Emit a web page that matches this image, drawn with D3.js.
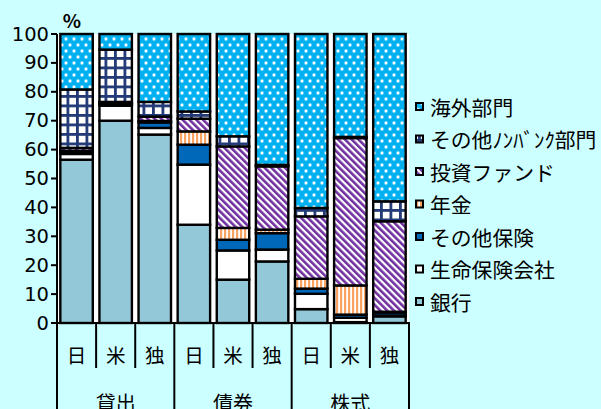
<!DOCTYPE html>
<html lang="ja">
<head>
<meta charset="utf-8">
<script src="https://cdn.jsdelivr.net/npm/d3@7"></script>
<style>
  html, body { margin: 0; padding: 0; background: #CCFFFF; }
  svg { display: block; }
  text { font-family: "Noto Sans CJK JP", "Noto Sans", sans-serif; fill: #000; }
  text.num { font-family: "DejaVu Sans", "Noto Sans CJK JP", sans-serif; }
</style>
</head>
<body>
<svg id="chart" width="601" height="409"></svg>
<script>
// Holders' shares (%) of loans, bonds and equities in Japan, US and Germany
const categories = ["日", "米", "独", "日", "米", "独", "日", "米", "独"];
const groups = ["貸出", "債券", "株式"];
const seriesNames = ["銀行", "生命保険会社", "その他保険", "年金", "投資ファンド", "その他ﾉﾝﾊﾞﾝｸ部門", "海外部門"];

const banks        = [56.5, 70.0, 65.2, 34.0, 15.0, 21.3, 4.8, 0.3, 2.3];
const lifeInsurers = [2.0, 5.2, 2.3, 20.8, 10.1, 4.1, 5.3, 1.5, 0.3];
const otherInsur   = [0.8, 0.5, 1.9, 6.9, 3.7, 5.7, 1.8, 1.1, 1.0];
const pensions     = [0.3, 0.3, 0.5, 4.6, 4.1, 1.2, 3.4, 10.1, 0.3];
const invFunds     = [1.0, 0.5, 1.5, 4.4, 28.2, 21.9, 21.6, 51.0, 31.3];
const otherNonbank = [20.2, 18.1, 5.1, 2.5, 3.5, 0.5, 2.9, 0.4, 6.9];
const overseas     = [19.2, 5.4, 23.5, 26.8, 35.4, 45.3, 60.2, 35.6, 57.9];

const yTicks = [0, 10, 20, 30, 40, 50, 60, 70, 80, 90, 100];

const seriesValues = [banks, lifeInsurers, otherInsur, pensions, invFunds, otherNonbank, overseas];

const svg = d3.select("#chart");
const W = 601, H = 409;
const plot = { left: 57, right: 409, top: 34, bottom: 323 };

svg.append("rect").attr("width", W).attr("height", H).attr("fill", "#CCFFFF");

// ---- fill patterns ----
const defs = svg.append("defs");

// 海外部門: blue with white dots
const pDots = defs.append("pattern").attr("id", "pat6")
  .attr("patternUnits", "userSpaceOnUse").attr("width", 8).attr("height", 12);
pDots.append("rect").attr("width", 8).attr("height", 12).attr("fill", "#00B0F0");
[[2, 3], [6, 9]].forEach(([cx, cy]) => {
  pDots.append("circle").attr("cx", cx).attr("cy", cy).attr("r", 1.9).attr("fill", "#80d8f8");
  pDots.append("circle").attr("cx", cx).attr("cy", cy).attr("r", 1.2).attr("fill", "#ffffff");
});

// その他ﾉﾝﾊﾞﾝｸ部門: navy grid on white
const pGrid = defs.append("pattern").attr("id", "pat5")
  .attr("patternUnits", "userSpaceOnUse").attr("width", 9.5).attr("height", 9.5);
pGrid.append("rect").attr("width", 9.5).attr("height", 9.5).attr("fill", "#ffffff");
pGrid.append("rect").attr("x", 0).attr("y", 0).attr("width", 9.5).attr("height", 2.8).attr("fill", "#233A78");
pGrid.append("rect").attr("x", 0).attr("y", 0).attr("width", 2.8).attr("height", 9.5).attr("fill", "#233A78");

// 投資ファンド: purple diagonal stripes
const pDiag = defs.append("pattern").attr("id", "pat4")
  .attr("patternUnits", "userSpaceOnUse").attr("width", 4.8).attr("height", 4.8)
  .attr("patternTransform", "rotate(-45)");
pDiag.append("rect").attr("width", 4.8).attr("height", 4.8).attr("fill", "#ffffff");
pDiag.append("rect").attr("width", 2.6).attr("height", 4.8).attr("fill", "#7030A0");

// 年金: orange vertical stripes
const pVert = defs.append("pattern").attr("id", "pat3")
  .attr("patternUnits", "userSpaceOnUse").attr("width", 4).attr("height", 4);
pVert.append("rect").attr("width", 4).attr("height", 4).attr("fill", "#ffffff");
pVert.append("rect").attr("width", 2.2).attr("height", 4).attr("fill", "#F9A462");

const fills = ["#93C8D8", "#ffffff", "#0068B8", "url(#pat3)", "url(#pat4)", "url(#pat5)", "url(#pat6)"];

// ---- scales ----
const x = d3.scaleBand()
  .domain(d3.range(categories.length))
  .range([plot.left, plot.right])
  .paddingInner(0.17)
  .paddingOuter(0.085);
const y = d3.scaleLinear().domain([0, 100]).range([plot.bottom, plot.top]);

// plot area
svg.append("rect")
  .attr("x", plot.left).attr("y", y(100))
  .attr("width", plot.right - plot.left).attr("height", y(0) - y(100))
  .attr("fill", "#ffffff");

// ---- stacked bars ----
const rows = categories.map((c, i) => {
  const r = { idx: i };
  seriesNames.forEach((s, k) => { r[s] = seriesValues[k][i]; });
  return r;
});
const stacked = d3.stack().keys(seriesNames)(rows);

svg.append("g").selectAll("g")
  .data(stacked)
  .join("g")
  .attr("fill", (d, k) => fills[k])
  .selectAll("rect")
  .data(d => d)
  .join("rect")
  .attr("x", d => x(d.data.idx))
  .attr("width", x.bandwidth())
  .attr("y", d => y(d[1]))
  .attr("height", d => y(d[0]) - y(d[1]))
  .attr("stroke", "#000")
  .attr("stroke-width", 2.4);

// ---- y axis ----
const yAxis = svg.append("g");
yAxis.append("line")
  .attr("x1", plot.left).attr("x2", plot.left)
  .attr("y1", y(100)).attr("y2", y(0))
  .attr("stroke", "#000").attr("stroke-width", 2);
yAxis.selectAll("line.tick")
  .data(yTicks).join("line").attr("class", "tick")
  .attr("x1", plot.left - 6).attr("x2", plot.left)
  .attr("y1", d => y(d)).attr("y2", d => y(d))
  .attr("stroke", "#000").attr("stroke-width", 2);
yAxis.selectAll("text")
  .data(yTicks).join("text")
  .attr("class", "num")
  .attr("x", plot.left - 8)
  .attr("y", d => y(d))
  .attr("text-anchor", "end")
  .attr("dominant-baseline", "central")
  .attr("font-size", 19.5)
  .text(d => d);

svg.append("text")
  .attr("x", 72).attr("y", 19)
  .attr("text-anchor", "middle")
  .attr("dominant-baseline", "central")
  .attr("font-size", 19)
  .attr("font-weight", "bold")
  .text("%");

// ---- category axis (two levels) ----
const step = x.step();
const xAxis = svg.append("g");
xAxis.append("line")
  .attr("x1", plot.left - 6).attr("x2", plot.right + 1)
  .attr("y1", plot.bottom).attr("y2", plot.bottom)
  .attr("stroke", "#000").attr("stroke-width", 2);
xAxis.selectAll("line.sep")
  .data(d3.range(categories.length + 1)).join("line").attr("class", "sep")
  .attr("x1", i => plot.left + i * step).attr("x2", i => plot.left + i * step)
  .attr("y1", plot.bottom)
  .attr("y2", i => (i % 3 === 0 ? H : 368))
  .attr("stroke", "#000").attr("stroke-width", 2);
xAxis.selectAll("text.cat")
  .data(categories).join("text").attr("class", "cat")
  .attr("x", (d, i) => x(i) + x.bandwidth() / 2)
  .attr("y", 354)
  .attr("text-anchor", "middle")
  .attr("dominant-baseline", "central")
  .attr("font-size", 19.5)
  .text(d => d);
xAxis.selectAll("text.grp")
  .data(groups).join("text").attr("class", "grp")
  .attr("x", (d, g) => plot.left + (g * 3 + 1.5) * step)
  .attr("y", 411)
  .attr("text-anchor", "middle")
  .attr("font-size", 20)
  .text(d => d);

// ---- legend ----
const legendOrder = d3.range(seriesNames.length).reverse();
const legend = svg.append("g");
const lg = legend.selectAll("g")
  .data(legendOrder).join("g")
  .attr("transform", (k, j) => `translate(0, ${106.5 + j * 32.5})`);
lg.append("rect")
  .attr("x", 416).attr("y", -3.5)
  .attr("width", 7).attr("height", 7)
  .attr("fill", k => fills[k])
  .attr("stroke", "#000").attr("stroke-width", 2);
lg.append("text")
  .attr("x", 430).attr("y", 0)
  .attr("dominant-baseline", "central")
  .attr("font-size", 20.8)
  .text(k => seriesNames[k]);
</script>
</body>
</html>
